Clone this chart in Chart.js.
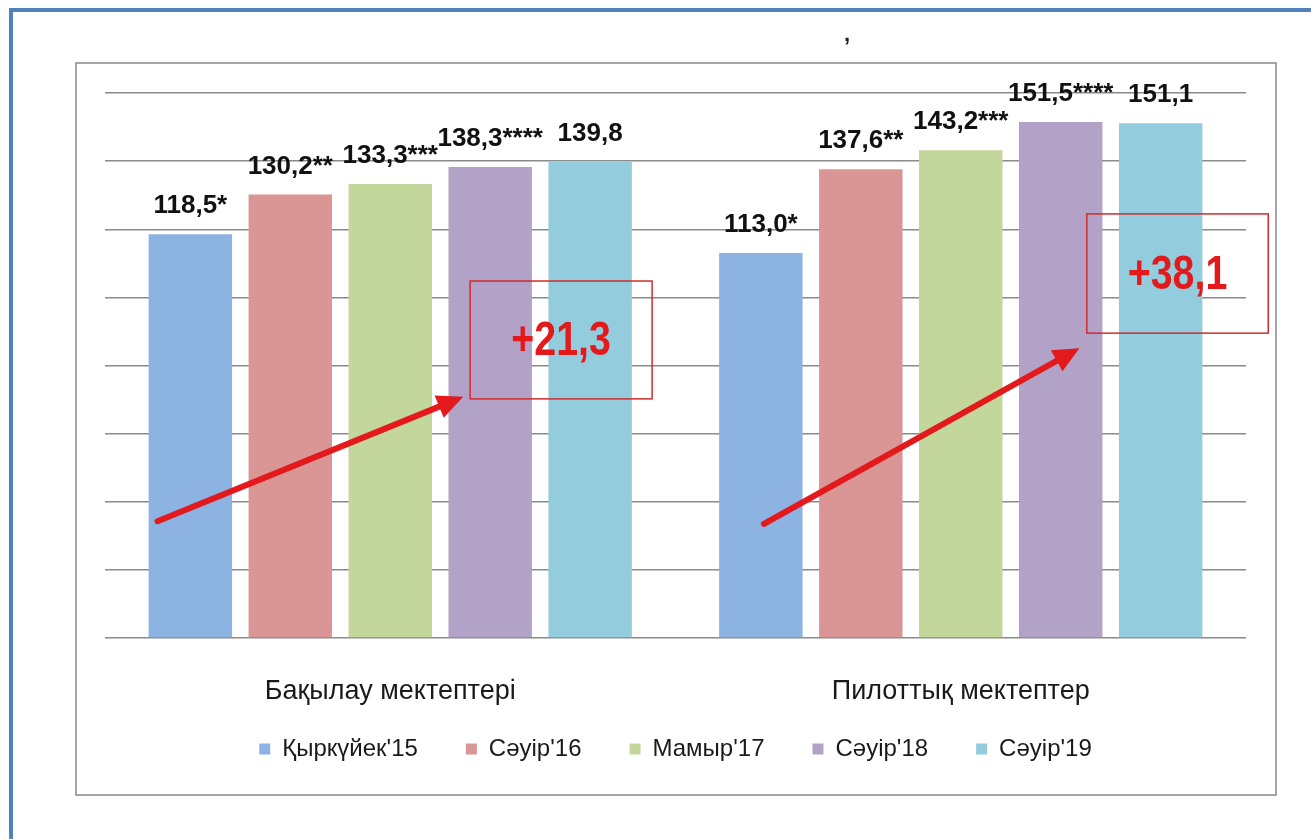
<!DOCTYPE html>
<html><head><meta charset="utf-8">
<script src="https://cdn.jsdelivr.net/npm/chart.js@4.4.1/dist/chart.umd.min.js"></script>
<style>html,body{margin:0;padding:0;background:#fff;overflow:hidden}canvas{display:block}</style>
</head><body><canvas id="c" width="1311" height="839"></canvas>
<script>
// ---- data ----
const categories = ['Бақылау мектептері', 'Пилоттық мектептер'];
const periods = ["Қыркүйек'15", "Сәуір'16", "Мамыр'17", "Сәуір'18", "Сәуір'19"];
const sep15 = [118.5, 113.0];
const apr16 = [130.2, 137.6];
const may17 = [133.3, 143.2];
const apr18 = [138.3, 151.5];
const apr19 = [139.8, 151.1];
const significance = ['*', '**', '***', '****', ''];
const gains = ['+21,3', '+38,1'];
const yMin = 0, yMax = 160, yStep = 20;

// ---- styles ----
const colors = ['#8DB3E2', '#D99694', '#C3D69B', '#B3A2C7', '#93CDDD'];
const FONT = "'Liberation Sans', Arial, sans-serif";
const RED = '#E3191C';

// annotation placement in data space: offset within category (fraction of category width), value on y axis
const arrowSpecs = [
  {cat: 0, from: [-0.408, 34.3], to: [0.128, 70.8]},
  {cat: 1, from: [-0.345, 33.5], to: [0.208, 85.1]}
];
const boxSpecs = [
  {cat: 0, x0: 0.140, x1: 0.459, v0: 104.8, v1: 70.2},
  {cat: 1, x0: 0.221, x1: 0.539, v0: 124.5, v1: 89.5}
];

const series = [sep15, apr16, may17, apr18, apr19];
const fmt = v => v.toFixed(1).replace('.', ',');

const framePlugin = {
  id: 'frame',
  afterLayout(chart) {
    // let category labels extend below the axis box (they are clipped to it otherwise)
    chart.scales.x.bottom += 40;
  },
  beforeDraw(chart) {
    const ctx = chart.ctx;
    ctx.save();
    ctx.fillStyle = '#fff';
    ctx.fillRect(0, 0, chart.width, chart.height);
    ctx.strokeStyle = '#4F81BD';
    ctx.lineWidth = 4;
    ctx.strokeRect(11, 10, 1400, 1000);
    ctx.strokeStyle = '#A6A6A6';
    ctx.lineWidth = 2;
    ctx.strokeRect(76, 63, 1200, 732);
    ctx.fillStyle = '#222';
    ctx.font = 'bold 22px ' + FONT;
    ctx.textAlign = 'center';
    ctx.textBaseline = 'middle';
    ctx.fillText(',', 847, 35);
    ctx.restore();
  }
};

const labelPlugin = {
  id: 'valueLabels',
  afterDatasetsDraw(chart) {
    const ctx = chart.ctx;
    ctx.save();
    ctx.font = 'bold 26px ' + FONT;
    ctx.fillStyle = '#111';
    ctx.textAlign = 'center';
    ctx.textBaseline = 'alphabetic';
    chart.data.datasets.forEach((ds, i) => {
      chart.getDatasetMeta(i).data.forEach((bar, j) => {
        ctx.fillText(fmt(ds.data[j]) + significance[i], bar.x, bar.y - 21);
      });
    });
    ctx.restore();
  }
};

const annotationPlugin = {
  id: 'gainAnnotations',
  afterDraw(chart) {
    const ctx = chart.ctx;
    const xs = chart.scales.x, ys = chart.scales.y;
    const catW = xs.width / categories.length;
    const px = (cat, off) => xs.getPixelForValue(cat) + off * catW;
    const py = v => ys.getPixelForValue(v);
    ctx.save();
    arrowSpecs.forEach(a => {
      const x1 = px(a.cat, a.from[0]), y1 = py(a.from[1]);
      const x2 = px(a.cat, a.to[0]), y2 = py(a.to[1]);
      const ang = Math.atan2(y2 - y1, x2 - x1);
      const headL = 26, headW = 12;
      const bx = x2 - headL * Math.cos(ang), by = y2 - headL * Math.sin(ang);
      ctx.strokeStyle = RED;
      ctx.fillStyle = RED;
      ctx.lineWidth = 6;
      ctx.lineCap = 'round';
      ctx.beginPath();
      ctx.moveTo(x1, y1);
      ctx.lineTo(bx + 4 * Math.cos(ang), by + 4 * Math.sin(ang));
      ctx.stroke();
      ctx.beginPath();
      ctx.moveTo(x2, y2);
      ctx.lineTo(bx + headW * Math.sin(ang), by - headW * Math.cos(ang));
      ctx.lineTo(bx - headW * Math.sin(ang), by + headW * Math.cos(ang));
      ctx.closePath();
      ctx.fill();
    });
    boxSpecs.forEach((b, k) => {
      const l = px(b.cat, b.x0), r = px(b.cat, b.x1);
      const t = py(b.v0), btm = py(b.v1);
      ctx.strokeStyle = '#D22B2B';
      ctx.lineWidth = 1.5;
      ctx.strokeRect(l, t, r - l, btm - t);
      ctx.save();
      ctx.translate((l + r) / 2, (t + btm) / 2 + 2);
      ctx.scale(0.82, 1);
      ctx.font = 'bold 48px ' + FONT;
      ctx.fillStyle = RED;
      ctx.textAlign = 'center';
      ctx.textBaseline = 'middle';
      ctx.fillText(gains[k], 0, 0);
      ctx.restore();
    });
    ctx.restore();
  }
};

new Chart(document.getElementById('c'), {
  type: 'bar',
  data: {
    labels: categories,
    datasets: periods.map((p, i) => ({
      label: p,
      data: series[i],
      backgroundColor: colors[i],
      borderWidth: 0,
      categoryPercentage: 0.876,
      barPercentage: 0.835
    }))
  },
  options: {
    responsive: false,
    animation: false,
    devicePixelRatio: 1,
    layout: {padding: {left: 105, right: 65, top: 93, bottom: 68}},
    plugins: {
      legend: {
        position: 'bottom',
        labels: {
          boxWidth: 11, boxHeight: 11, padding: 48, color: '#1a1a1a',
          font: {family: FONT, size: 24}
        }
      },
      tooltip: {enabled: false}
    },
    scales: {
      x: {
        grid: {display: false},
        border: {display: false},
        ticks: {color: '#1a1a1a', padding: 29, font: {family: FONT, size: 27}},
        afterFit: s => { s.height = 51; }
      },
      y: {
        min: yMin, max: yMax,
        ticks: {stepSize: yStep, display: false},
        grid: {color: '#8A8A8A', lineWidth: 1.4, drawTicks: false},
        border: {display: false},
        afterFit: s => { s.width = 0; }
      }
    }
  },
  plugins: [framePlugin, labelPlugin, annotationPlugin]
});
</script>
</body></html>
